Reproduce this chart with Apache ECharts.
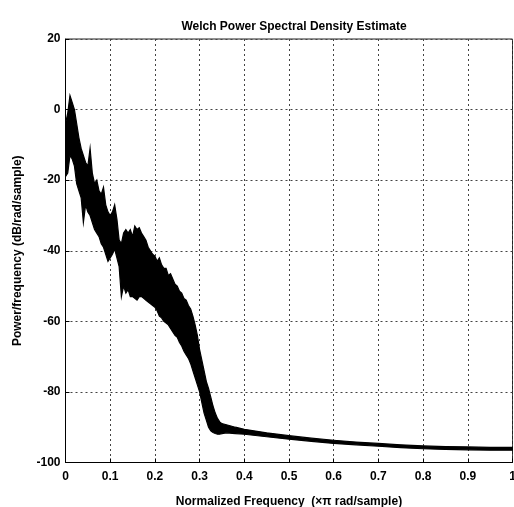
<!DOCTYPE html>
<html>
<head>
<meta charset="utf-8">
<script src="https://cdn.jsdelivr.net/npm/echarts@6/dist/echarts.min.js"></script>
<style>
  html, body { margin: 0; padding: 0; background: #fff; }
  #chart { width: 514px; height: 507px; }
</style>
</head>
<body>
<div id="chart"></div>
<script>
// Normalized frequency samples (x pi rad/sample)
const freq = [
  0.000, 0.005, 0.010, 0.015, 0.020, 0.025, 0.030, 0.035, 0.040, 0.045,
  0.050, 0.055, 0.060, 0.065, 0.070, 0.075, 0.080, 0.085, 0.090, 0.095,
  0.100, 0.105, 0.110, 0.115, 0.120, 0.125, 0.130, 0.135, 0.140, 0.145,
  0.150, 0.155, 0.160, 0.165, 0.170, 0.175, 0.180, 0.185, 0.190, 0.195,
  0.200, 0.205, 0.210, 0.215, 0.220, 0.225, 0.230, 0.235, 0.240, 0.245,
  0.250, 0.255, 0.260, 0.265, 0.270, 0.275, 0.280, 0.285, 0.290, 0.295,
  0.300, 0.305, 0.310, 0.315, 0.320, 0.325, 0.330, 0.335, 0.340, 0.345,
  0.350, 0.360, 0.380, 0.400, 0.450, 0.500, 0.550, 0.600, 0.650, 0.700,
  0.750, 0.800, 0.850, 0.900, 0.950, 1.000
];

// Upper edge of the PSD estimate spread (dB/rad/sample)
const upperDb = [
  -4, -1, 4, 2, 0, -4, -8, -11, -13, -15,
  -16, -11, -18, -21, -20, -23, -24, -22, -27, -29,
  -30, -29, -27, -31, -37, -38, -35, -34, -35, -34,
  -36, -33, -34, -33.5, -35, -36, -37, -39, -40, -41,
  -41.5, -43, -42, -44, -45, -45, -47, -46.5, -48, -49.5,
  -50, -51.5, -52, -53.5, -54, -55.5, -56.5, -58.5, -61, -64,
  -68, -71, -74, -77, -79, -81.5, -84, -86, -87.5, -88.5,
  -89, -89.3, -90.0, -90.6, -91.6, -92.4, -93.1, -93.7, -94.2, -94.6,
  -95.0, -95.3, -95.5, -95.6, -95.7, -95.7
];

// Lower edge of the PSD estimate spread (dB/rad/sample)
const lowerDb = [
  -19, -18, -13, -14, -16, -21, -23, -25, -32, -27,
  -29, -30, -32, -34, -35, -36, -38, -39, -41, -43,
  -42, -41, -39.5, -42, -44.5, -53, -50, -52, -51, -53,
  -53, -53.5, -54, -53, -53, -53.5, -54, -54.5, -55, -55.5,
  -56, -57, -58.5, -59, -60, -60.5, -61, -62, -63, -64,
  -64.5, -66, -67, -68.5, -69.5, -70.5, -72, -74, -76, -78,
  -80, -83, -86, -88, -90, -91, -91.5, -91.8, -92, -92,
  -91.8, -91.6, -91.8, -92.0, -92.7, -93.4, -94.0, -94.6, -95.0, -95.4,
  -95.8, -96.1, -96.3, -96.4, -96.5, -96.5
];

const xTicks = [0, 0.1, 0.2, 0.3, 0.4, 0.5, 0.6, 0.7, 0.8, 0.9, 1];
const yTicks = [-100, -80, -60, -40, -20, 0, 20];

const FONT = "'Liberation Sans', Arial, sans-serif";
const chart = echarts.init(document.getElementById('chart'), null, { renderer: 'canvas' });

const gridStyle = { color: '#444', width: 1, type: [2, 3] };

chart.setOption({
  backgroundColor: '#fff',
  animation: false,
  title: {
    text: 'Welch Power Spectral Density Estimate',
    left: 289, top: 16, textAlign: 'center',
    textStyle: { fontFamily: FONT, fontSize: 12, fontWeight: 'bold', color: '#000' }
  },
  grid: {
    left: 65.5, right: 1.5, top: 39, bottom: 44.5,
    outerBoundsMode: 'none',
    show: true, borderColor: '#222', borderWidth: 1, backgroundColor: '#fff'
  },
  xAxis: {
    type: 'value', min: xTicks[0], max: xTicks[xTicks.length - 1], interval: 0.1,
    name: 'Normalized Frequency  (×π rad/sample)',
    nameLocation: 'middle', nameGap: 33,
    nameTextStyle: { fontFamily: FONT, fontSize: 12, fontWeight: 'bold', color: '#000' },
    axisLine: { show: true, onZero: false, lineStyle: { color: '#000', width: 1 } },
    axisTick: { show: true, inside: true, length: 4, lineStyle: { color: '#000' } },
    axisLabel: {
      fontFamily: FONT, fontSize: 12, fontWeight: 'bold', color: '#000', margin: 8,
      hideOverlap: false,
      formatter: v => String(Math.round(v * 10) / 10)
    },
    splitLine: { show: true, lineStyle: gridStyle }
  },
  yAxis: {
    type: 'value', min: yTicks[0], max: yTicks[yTicks.length - 1], interval: 20,
    name: 'Power/frequency (dB/rad/sample)',
    nameLocation: 'middle', nameGap: 42,
    nameTextStyle: { fontFamily: FONT, fontSize: 12, fontWeight: 'bold', color: '#000' },
    axisLine: { show: true, onZero: false, lineStyle: { color: '#000', width: 1 } },
    axisTick: { show: true, inside: true, length: 4, lineStyle: { color: '#000' } },
    axisLabel: { fontFamily: FONT, fontSize: 12, fontWeight: 'bold', color: '#000', margin: 5 },
    splitLine: { show: true, lineStyle: gridStyle }
  },
  series: [{
    type: 'custom',
    name: 'PSD',
    clip: true,
    data: freq.map((f, i) => [f, upperDb[i], lowerDb[i]]),
    encode: { x: 0, y: [1, 2] },
    renderItem: function (params, api) {
      if (params.dataIndex !== 0) return null;
      const pts = [];
      for (let i = 0; i < freq.length; i++) pts.push(api.coord([freq[i], upperDb[i]]));
      for (let i = freq.length - 1; i >= 0; i--) pts.push(api.coord([freq[i], lowerDb[i]]));
      return {
        type: 'polygon',
        shape: { points: pts },
        style: { fill: '#000', stroke: '#000', lineWidth: 1.2 }
      };
    }
  }]
});
</script>
</body>
</html>
